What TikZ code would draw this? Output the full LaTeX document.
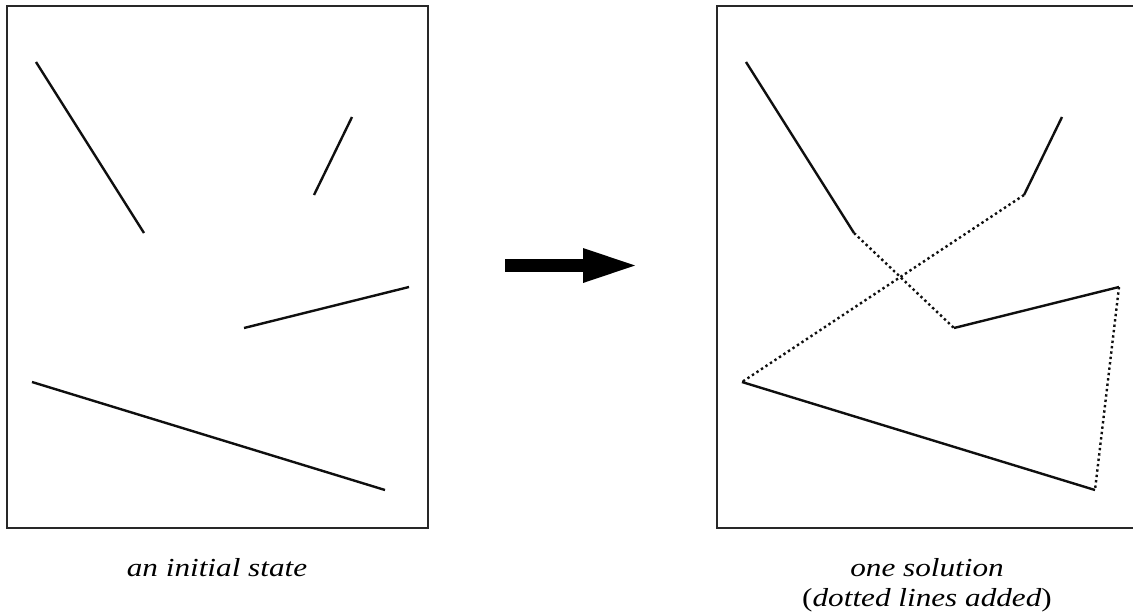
\documentclass[tikz,border=0pt]{standalone}
\usepackage{fontspec}
\setmainfont{Liberation Serif}
\newfontfamily\capfont{Liberation Serif}[FakeStretch=1.2]
\usetikzlibrary{arrows.meta}
\definecolor{framegrey}{RGB}{40,40,40}
\definecolor{inkblack}{RGB}{15,15,15}
\tikzset{
  panel/.style={draw=framegrey,line width=2.2pt},
  segment/.style={draw=inkblack,line width=2.4pt},
  added/.style={draw=inkblack,line width=2.4pt,dash pattern=on 2.4pt off 3pt},
  caption/.style={font=\capfont\fontsize{26}{30}\selectfont\itshape,
    align=center,inner sep=0pt},
  bigarrow/.style={-{Triangle[length=52pt,width=35pt,line width=0pt]},
    line width=13pt,draw=black}
}

\begin{document}
\begin{tikzpicture}[x=1pt,y=-1pt]
  \useasboundingbox (0,0) rectangle (1133,611);
  \draw[panel] (7,6) rectangle (428,528);
  \draw[segment] (36,62) -- (144,233);
  \draw[segment] (352,117) -- (314,195);
  \draw[segment] (244,328) -- (409,287);
  \draw[segment] (32,382) -- (385,490);
  \node[caption,anchor=base] (initcap) at (217,576) {an initial state};

  \coordinate (from) at (505,265.5);
  \coordinate (to) at (635,265.5);
  \draw[bigarrow] (from) -- (to);

  \begin{scope}[xshift=710pt]
    \draw[panel] (7,6) rectangle (428,528);
    \coordinate (a1) at (36,62);   \coordinate (a2) at (144,233);
    \coordinate (b1) at (352,117); \coordinate (b2) at (314,195);
    \coordinate (c1) at (244,328); \coordinate (c2) at (409,287);
    \coordinate (d1) at (32,382);  \coordinate (d2) at (385,490);
    \draw[segment] (a1) -- (a2);
    \draw[segment] (b1) -- (b2);
    \draw[segment] (c1) -- (c2);
    \draw[segment] (d1) -- (d2);
    \draw[added] (a2) -- (c1);
    \draw[added] (b2) -- (d1);
    \draw[added] (c2) -- (d2);
    \node[caption,anchor=north] (solcap) at (217,558)
      {one solution\\{\upshape(}dotted lines added{\upshape)}};
  \end{scope}
\end{tikzpicture}
\end{document}
